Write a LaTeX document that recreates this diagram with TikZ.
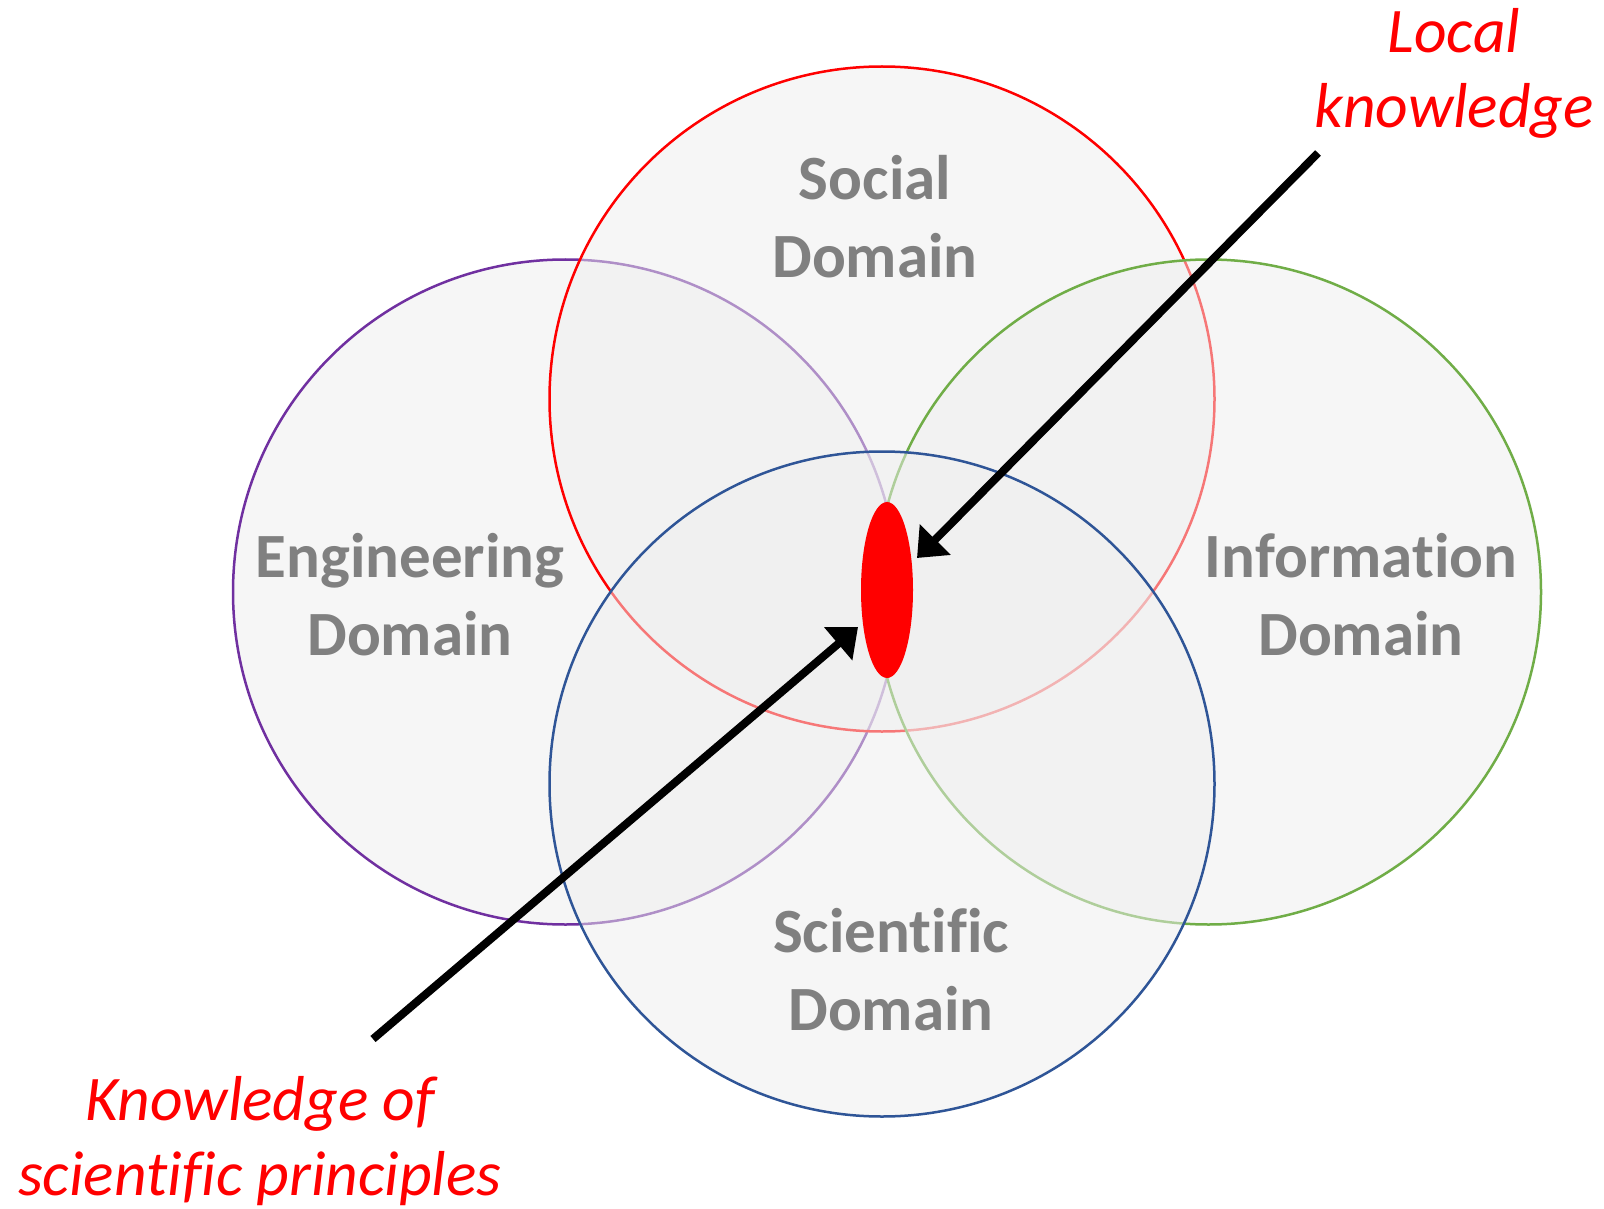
\documentclass[tikz,border=0pt]{standalone}
\usepackage{fontspec}
\setmainfont{Carlito}[Ligatures=CommonOff]
\usetikzlibrary{shapes.geometric,arrows.meta}
\definecolor{engc}{RGB}{112,48,160}
\definecolor{socc}{RGB}{255,0,0}
\definecolor{infc}{RGB}{112,173,71}
\definecolor{scic}{RGB}{47,85,151}
\definecolor{fillc}{RGB}{239,239,239}
\definecolor{labc}{RGB}{128,128,128}
\tikzset{
  domcircle/.style={circle, minimum size=665pt, inner sep=0pt, line width=2.5pt, fill=fillc, fill opacity=0.5, draw opacity=1},
  domlabel/.style={anchor=base, align=center, inner sep=0pt, text=labc, font=\fontsize{63}{78}\selectfont\bfseries},
  notelabel/.style={anchor=base, align=center, inner sep=0pt, text=socc, font=\fontsize{63.5}{75}\selectfont\itshape},
  bigarrow/.style={line width=8pt, -{Triangle[length=26pt,width=42pt]}},
}
\begin{document}
\begin{tikzpicture}[x=1pt,y=-1pt]
\useasboundingbox[fill=white] (0,0) rectangle (1604,1209);
% circles
\node[domcircle, draw=engc] (eng) at (565.5,592) {};
\node[domcircle, draw=socc] (soc) at (882,399) {};
\node[domcircle, draw=infc] (inf) at (1208.5,592) {};
\node[domcircle, draw=scic] (sci) at (882,784) {};
% core
\node[ellipse, fill=socc, minimum width=52pt, minimum height=176pt, inner sep=0pt] (core) at (887,590) {};
% labels (base anchor = baseline of last line)
\node[domlabel] (soclab) at (875,277) {Social\\Domain};
\node[domlabel] (englab) at (410,655) {Engineering\\Domain};
\node[domlabel] (inflab) at (1361,655) {Information\\Domain};
\node[domlabel] (scilab) at (891,1030) {Scientific\\Domain};
\node[notelabel] (local) at (1454,128) {Local\\knowledge};
\node[notelabel] (sciprin) at (260,1195) {Knowledge of\\scientific principles};
% arrows
\coordinate (lkstart) at (1318,153);
\coordinate (lktip) at (917,558);
\coordinate (spstart) at (373,1039);
\coordinate (sptip) at (858,627);
\draw[bigarrow] (lkstart) -- (lktip);
\draw[bigarrow] (spstart) -- (sptip);
\end{tikzpicture}
\end{document}
